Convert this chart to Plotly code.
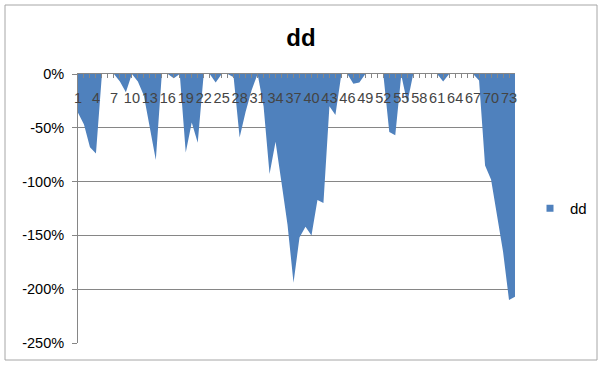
import plotly.graph_objects as go

# ---- data ----
categories = list(range(1, 75))
dd_values = [
    -36, -47, -68, -74, 0, 0, 0, -7, -17, 0,
    -7, -20, -50, -80, 0, 0, -4, 0, -73, -45,
    -64, 0, 0, -8, 0, 0, -3, -59, -35, -15,
    0, -30, -93, -63, -101, -140, -194, -152, -142, -150,
    -117, -120, -30, -38, 0, 0, -9, -8, 0, 0,
    0, 0, -54, -57, -1, -27, 0, 0, 0, 0,
    0, -7, 0, 0, 0, 0, 0, -6, -85, -98,
    -130, -165, -210, -207,
]
x_tick_labels = [str(c) if (c - 1) % 3 == 0 else "" for c in categories]
y_tick_values = [0, -50, -100, -150, -200, -250]
y_tick_labels = ["0%", "-50%", "-100%", "-150%", "-200%", "-250%"]
series_name = "dd"
title_text = "dd"

BLUE = "#4F81BD"
W, H = 602, 366
L, R, T, B = 78, 87, 74, 23
pw, ph = W - L - R, H - T - B

fig = go.Figure()
fig.add_trace(go.Scatter(
    x=categories, y=dd_values, mode="lines", fill="tozeroy",
    fillcolor=BLUE, line=dict(width=0, color=BLUE), showlegend=False,
    name=series_name,
))
# legend entry (square marker like Excel)
fig.add_trace(go.Scatter(
    x=[None], y=[None], mode="markers", name=series_name,
    marker=dict(symbol="square", size=7, color=BLUE), showlegend=True,
))

def px_x(p):
    return (p - L) / pw

def px_y(p):
    return (H - B - p) / ph

fig.update_layout(
    width=W, height=H,
    margin=dict(l=L, r=R, t=T, b=B, autoexpand=False),
    paper_bgcolor="white", plot_bgcolor="white",
    font=dict(family="Liberation Sans, Arial, sans-serif", size=14.5, color="#000000"),
    title=dict(text="<b>" + title_text + "</b>", x=0.5, xref="container",
               xanchor="center", y=1 - 38 / H, yref="container", yanchor="middle",
               font=dict(size=24, color="#000000")),
    showlegend=True,
    legend=dict(x=px_x(530), xanchor="left", y=0.5, yanchor="middle",
                font=dict(size=15), bgcolor="rgba(0,0,0,0)",
                itemwidth=30, tracegroupgap=0),
    xaxis=dict(
        range=[1, 74], side="top", tickmode="array",
        tickvals=categories, ticktext=x_tick_labels,
        ticks="inside", ticklen=4, tickcolor="#868686",
        ticklabelposition="inside", ticklabeloverflow="allow", tickangle=0,
        ticklabelstandoff=15,
        showgrid=False, zeroline=False,
        showline=True, linecolor="#868686", linewidth=1,
        tickfont=dict(size=14.5),
    ),
    yaxis=dict(
        range=[-250, 0], tickmode="array",
        tickvals=y_tick_values, ticktext=y_tick_labels,
        showgrid=True, gridcolor="#868686", gridwidth=1,
        zeroline=False, showline=True, linecolor="#868686", linewidth=1,
        ticks="outside", ticklen=5, tickcolor="#868686",
        ticklabelstandoff=5, ticklabeloverflow="allow",
        tickfont=dict(size=14.5),
    ),
    shapes=[dict(
        type="rect", xref="paper", yref="paper",
        x0=px_x(5), x1=px_x(597), y0=px_y(360), y1=px_y(5),
        line=dict(color="#A6A6A6", width=1), fillcolor="rgba(0,0,0,0)",
        layer="below",
    )],
)

fig.write_html("out.html")
